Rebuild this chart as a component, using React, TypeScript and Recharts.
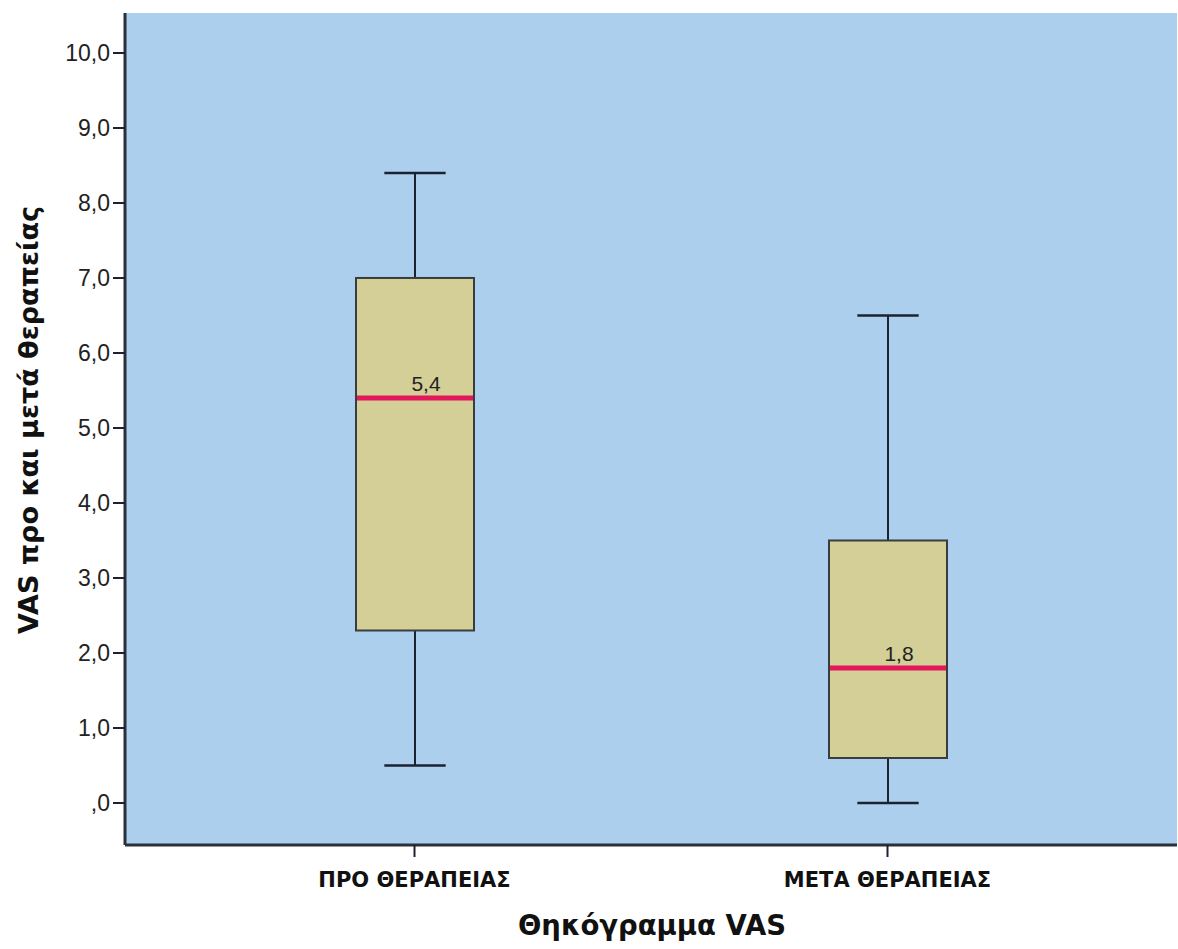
import { ComposedChart, Bar, XAxis, YAxis, CartesianGrid } from "recharts"

// boxplot values
const categories = ["ΠΡΟ ΘΕΡΑΠΕΙΑΣ", "ΜΕΤΑ ΘΕΡΑΠΕΙΑΣ"]
const whiskerLow = [0.5, 0.0]
const quartile1 = [2.3, 0.6]
const medians = [5.4, 1.8]
const quartile3 = [7.0, 3.5]
const whiskerHigh = [8.4, 6.5]
const yTicks = [0, 1, 2, 3, 4, 5, 6, 7, 8, 9, 10]

const data = categories.map((name, i) => ({
  name,
  box: [quartile1[i], quartile3[i]],
  lo: whiskerLow[i],
  q1: quartile1[i],
  med: medians[i],
  q3: quartile3[i],
  hi: whiskerHigh[i],
}))

const DARK = "#1d2230"
const BG = "#accfed"
const BOX = "#d4ce97"
const MEDIAN = "#e3175c"

const fmt = (v: number) => (v === 0 ? ",0" : v.toFixed(1).replace(".", ","))

function BoxShape(props: any) {
  const { x, y, width, height, payload } = props
  const top = Math.min(y, y + height)
  const h = Math.abs(height)
  const ppu = h / (payload.q3 - payload.q1)
  const yOf = (v: number) => top + (payload.q3 - v) * ppu
  const cx = x + width / 2
  const cap = width * 0.26
  return (
    <g>
      <line x1={cx} x2={cx} y1={yOf(payload.hi)} y2={yOf(payload.q3)} stroke={DARK} strokeWidth={2} />
      <line x1={cx} x2={cx} y1={yOf(payload.q1)} y2={yOf(payload.lo)} stroke={DARK} strokeWidth={2} />
      <line x1={cx - cap} x2={cx + cap} y1={yOf(payload.hi)} y2={yOf(payload.hi)} stroke={DARK} strokeWidth={2.5} />
      <line x1={cx - cap} x2={cx + cap} y1={yOf(payload.lo)} y2={yOf(payload.lo)} stroke={DARK} strokeWidth={2.5} />
      <rect x={x} y={top} width={width} height={h} fill={BOX} stroke="#3a3d3f" strokeWidth={2} />
      <line x1={x + 1} x2={x + width - 1} y1={yOf(payload.med)} y2={yOf(payload.med)} stroke={MEDIAN} strokeWidth={5} />
      <text
        x={cx + 11}
        y={yOf(payload.med) - 7}
        textAnchor="middle"
        fontSize={21}
        fontFamily="Liberation Sans, Arial, sans-serif"
        fill="#222"
      >
        {fmt(payload.med)}
      </text>
    </g>
  )
}

function CategoryTick(props: any) {
  const { x, y, payload } = props
  return (
    <text
      x={x}
      y={y + 28}
      textAnchor="middle"
      fontSize={21}
      fontWeight="bold"
      fontFamily="DejaVu Sans, sans-serif"
      fill="#111"
    >
      {payload.value}
    </text>
  )
}

export default function App() {
  return (
    <div style={{ width: 1178, height: 949 }}>
      <style>{"body{margin:0}"}</style>
      <ComposedChart
        width={1178}
        height={949}
        data={data}
        margin={{ top: 13, right: 1, bottom: 44, left: 45 }}
      >
        <CartesianGrid fill={BG} horizontal={false} vertical={false} />
        <XAxis
          dataKey="name"
          padding={{ left: 53, right: 53 }}
          height={60}
          tickSize={12}
          tickLine={{ stroke: DARK, strokeWidth: 2 }}
          axisLine={{ stroke: "#2a3038", strokeWidth: 3 }}
          tick={<CategoryTick />}
          label={{
            content: () => (
              <text
                x={652}
                y={935}
                textAnchor="middle"
                fontSize={27.5}
                fontWeight="bold"
                fontFamily="DejaVu Sans, sans-serif"
                fill="#111"
              >
                Θηκόγραμμα VAS
              </text>
            ),
          }}
        />
        <XAxis xAxisId="top" orientation="top" height={0} tick={false} tickLine={false} axisLine={{ stroke: "#2a3038", strokeWidth: 3 }} />
        <YAxis
          width={80}
          domain={[-0.56, 10.533]}
          allowDataOverflow
          ticks={yTicks}
          tickFormatter={fmt}
          tickSize={12}
          tickMargin={3}
          tickLine={{ stroke: DARK, strokeWidth: 2 }}
          axisLine={{ stroke: "#2a3038", strokeWidth: 3 }}
          tick={{ fontSize: 23, fill: "#222", fontFamily: "Liberation Sans, Arial, sans-serif" }}
          label={{
            content: () => (
              <text
                x={0}
                y={0}
                transform="translate(38,420) rotate(-90)"
                textAnchor="middle"
                fontSize={27}
                fontWeight="bold"
                fontFamily="DejaVu Sans, sans-serif"
                fill="#111"
              >
                VAS προ και μετά θεραπείας
              </text>
            ),
          }}
        />
        <YAxis yAxisId="right" orientation="right" width={0} tick={false} tickLine={false} axisLine={{ stroke: "#2a3038", strokeWidth: 3 }} />
        <Bar dataKey="box" barSize={118} shape={<BoxShape />} isAnimationActive={false} />
      </ComposedChart>
    </div>
  )
}
